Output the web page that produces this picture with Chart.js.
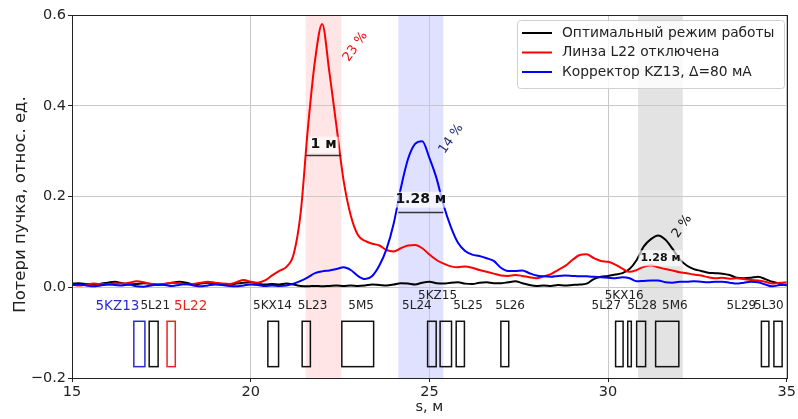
<!DOCTYPE html>
<html><head><meta charset="utf-8">
<script src="https://cdn.jsdelivr.net/npm/chart.js@4.4.0/dist/chart.umd.min.js"></script>
<style>html,body{margin:0;padding:0;background:#fff;}canvas{display:block;}</style>
</head><body>
<canvas id="c" width="798" height="419"></canvas>
<script>
// ---- data ----
const sValues = [15,15.2,15.4,15.6,15.8,16,16.2,16.4,16.6,16.8,
17,17.2,17.4,17.6,17.8,18,18.2,18.4,18.6,18.8,
19,19.2,19.4,19.6,19.8,20,20.2,20.4,20.6,20.8,
21,21.2,21.4,21.6,21.8,22,22.2,22.4,22.6,22.8,
23,23.2,23.4,23.6,23.8,24,24.2,24.4,24.6,24.8,
25,25.2,25.4,25.6,25.8,26,26.2,26.4,26.6,26.8,
27,27.2,27.4,27.6,27.8,28,28.2,28.4,28.6,28.8,
29,29.2,29.4,29.6,29.8,30,30.2,30.4,30.6,30.8,
31,31.2,31.4,31.6,31.8,32,32.2,32.4,32.6,32.8,
33,33.2,33.4,33.6,33.8,34,34.2,34.4,34.6,34.8,
35];
const lossOptimal = [0.008,0.009,0.007,0.006,0.008,0.010,0.012,0.009,0.006,0.007,
0.009,0.008,0.005,0.007,0.010,0.012,0.010,0.006,0.008,0.010,
0.009,0.006,0.005,0.008,0.010,0.011,0.008,0.006,0.007,0.006,
0.008,0.006,0.003,0.002,0.003,0.002,0.003,0.004,0.003,0.004,
0.003,0.004,0.006,0.005,0.004,0.006,0.009,0.008,0.006,0.010,
0.012,0.009,0.008,0.010,0.011,0.008,0.007,0.010,0.011,0.009,
0.009,0.011,0.013,0.009,0.005,0.003,0.004,0.003,0.005,0.004,
0.005,0.006,0.008,0.018,0.023,0.025,0.028,0.031,0.040,0.060,
0.090,0.106,0.114,0.105,0.085,0.062,0.048,0.040,0.036,0.032,
0.031,0.030,0.027,0.021,0.020,0.021,0.023,0.018,0.012,0.008,
0.004];
const lossL22Off = [0.006,0.004,0.006,0.008,0.007,0.006,0.009,0.008,0.010,0.013,
0.011,0.007,0.006,0.008,0.010,0.009,0.006,0.007,0.010,0.012,
0.010,0.008,0.007,0.011,0.016,0.012,0.010,0.015,0.026,0.036,
0.045,0.072,0.165,0.350,0.500,0.580,0.475,0.355,0.235,0.158,
0.115,0.102,0.096,0.092,0.082,0.079,0.086,0.092,0.093,0.086,
0.072,0.060,0.052,0.046,0.044,0.046,0.043,0.038,0.034,0.030,
0.026,0.025,0.027,0.025,0.022,0.020,0.024,0.029,0.038,0.047,
0.060,0.071,0.073,0.064,0.058,0.056,0.050,0.041,0.034,0.038,
0.045,0.048,0.044,0.040,0.037,0.033,0.031,0.028,0.026,0.022,
0.020,0.021,0.019,0.020,0.018,0.016,0.015,0.012,0.008,0.010,
0.011];
const lossKZ13 = [0.005,0.006,0.004,0.002,0.004,0.006,0.005,0.004,0.006,0.002,
0.001,0.004,0.006,0.005,0.003,0.005,0.007,0.004,0.002,0.004,
0.006,0.005,0.003,0.002,0.004,0.006,0.005,0.003,0.004,0.003,
0.004,0.008,0.014,0.022,0.031,0.035,0.037,0.040,0.044,0.038,
0.025,0.018,0.025,0.048,0.084,0.140,0.218,0.282,0.316,0.322,
0.285,0.240,0.180,0.133,0.098,0.080,0.072,0.069,0.064,0.058,
0.043,0.036,0.036,0.037,0.031,0.026,0.024,0.023,0.025,0.026,
0.025,0.024,0.024,0.023,0.022,0.021,0.020,0.022,0.020,0.013,
0.014,0.015,0.015,0.011,0.010,0.012,0.012,0.013,0.012,0.011,
0.012,0.012,0.010,0.008,0.010,0.012,0.011,0.006,0.002,0.005,
0.006];
const seriesNames = ['Оптимальный режим работы','Линза L22 отключена','Корректор KZ13, Δ=80 мА'];
const xTicks = [15,20,25,30,35];
const yTicks = [-0.2,0.0,0.2,0.4,0.6];
const xTitle = 's, м';
const yTitle = 'Потери пучка, относ. ед.';

// peak regions (FWHM) and labels
const bandStart = [21.54,24.13,30.84];
const bandEnd   = [22.54,25.39,32.09];
const fwhmLevel = [0.292,0.165,null];
const fwhmText  = ['1 м','1.28 м','1.28 м'];
const fwhmTextY = [0.314,0.193,0.064];
const pctText = ['23 %','14 %','2 %'];
const pctS    = [22.93,25.61,32.07];
const pctY    = [0.53,0.327,0.134];

// beamline elements
const elemNames = ['5KZ13','5L21','5L22','5KX14','5L23','5M5','5L24','5KZ15','5L25','5L26','5L27','5KX16','5L28','5M6','5L29','5L30'];
const elemStart = [16.73,17.16,17.66,20.48,21.44,22.55,24.95,25.30,25.75,27.00,30.21,30.55,30.80,31.33,34.29,34.64];
const elemEnd   = [17.04,17.41,17.89,20.78,21.67,23.44,25.19,25.62,25.98,27.22,30.42,30.65,31.05,31.98,34.50,34.87];
const elemLabelS = [16.27,17.33,18.32,20.61,21.73,23.09,24.65,25.23,26.08,27.26,29.95,30.45,30.95,31.87,33.73,34.50];
const elemUpper = ['5KZ15','5KX16'];

// ---- styles ----
const FONT = '"DejaVu Sans", sans-serif';
const lineColors = ['#000000','#ff0000','#0000ff'];
const bandColors = ['rgba(255,0,0,0.10)','rgba(0,0,255,0.12)','rgba(128,128,128,0.22)'];
const pctColors = ['#ee1111','#22307a','#111111'];
const fwhmFont = ['bold 14px '+FONT,'bold 14px '+FONT,'bold 11px '+FONT];
const elemColor = {'5KZ13':'#2a2ad0','5L22':'#ee2222'};

Chart.defaults.font.family = FONT;

const mk = vals => sValues.map((s,i)=>({x:s,y:vals[i]}));

const deco = {
  id:'deco',
  beforeDraw(chart){
    const {ctx, chartArea:a, scales:{x}} = chart;
    ctx.save();
    bandStart.forEach((b,i)=>{
      const x0 = x.getPixelForValue(b), x1 = x.getPixelForValue(bandEnd[i]);
      ctx.fillStyle = bandColors[i];
      ctx.fillRect(x0, a.top, x1-x0, a.bottom-a.top);
    });
    ctx.restore();
  },
  afterDraw(chart){
    const {ctx, chartArea:a, scales:{x,y}} = chart;
    ctx.save();
    // FWHM markers
    bandStart.forEach((b,i)=>{
      const x0 = x.getPixelForValue(b), x1 = x.getPixelForValue(bandEnd[i]);
      if (fwhmLevel[i] !== null) {
        const yy = Math.round(y.getPixelForValue(fwhmLevel[i]))+0.5;
        ctx.strokeStyle = '#333'; ctx.lineWidth = 1.5;
        ctx.beginPath(); ctx.moveTo(x0,yy); ctx.lineTo(x1,yy); ctx.stroke();
      }
      ctx.font = fwhmFont[i];
      const cx = (x0+x1)/2, ty = y.getPixelForValue(fwhmTextY[i]);
      const w = ctx.measureText(fwhmText[i]).width;
      ctx.fillStyle = 'rgba(255,255,255,0.65)';
      ctx.fillRect(cx-w/2-2, ty-8, w+4, 16);
      ctx.fillStyle = '#111'; ctx.textAlign='center'; ctx.textBaseline='middle';
      ctx.fillText(fwhmText[i], cx, ty);
      // percent labels
      ctx.save();
      ctx.translate(x.getPixelForValue(pctS[i]), y.getPixelForValue(pctY[i]));
      ctx.rotate(-55*Math.PI/180);
      ctx.font = '13px '+FONT; ctx.fillStyle = pctColors[i];
      ctx.fillText(pctText[i], 0, 0);
      ctx.restore();
    });
    // elements
    const yb0 = y.getPixelForValue(-0.175), yb1 = y.getPixelForValue(-0.075);
    elemNames.forEach((n,i)=>{
      const col = elemColor[n] || '#111';
      const x0 = x.getPixelForValue(elemStart[i]), x1 = x.getPixelForValue(elemEnd[i]);
      ctx.strokeStyle = col; ctx.lineWidth = 1.5;
      ctx.strokeRect(x0, yb1, x1-x0, yb0-yb1);
      ctx.fillStyle = elemColor[n] ? col : '#222';
      ctx.font = (elemColor[n] ? '13.5px ' : '12px ') + FONT;
      ctx.textAlign='center'; ctx.textBaseline='middle';
      const ly = y.getPixelForValue(elemUpper.includes(n) ? -0.018 : -0.042);
      ctx.fillText(n, x.getPixelForValue(elemLabelS[i]), ly);
    });
    // frame
    ctx.strokeStyle = '#222'; ctx.lineWidth = 1;
    ctx.strokeRect(Math.round(a.left)+0.5, Math.round(a.top)+0.5, Math.round(a.right-a.left), Math.round(a.bottom-a.top));
    // y axis title
    ctx.save();
    ctx.translate(21, 204.5); ctx.rotate(-Math.PI/2);
    ctx.font = '16.5px '+FONT; ctx.fillStyle='#222'; ctx.textAlign='center'; ctx.textBaseline='middle';
    ctx.fillText(yTitle, 0, 0);
    ctx.restore();
    // legend
    const lx=517.5, ly=20.5, lw=267, lh=68, r=3;
    ctx.beginPath();
    ctx.moveTo(lx+r,ly); ctx.lineTo(lx+lw-r,ly); ctx.quadraticCurveTo(lx+lw,ly,lx+lw,ly+r);
    ctx.lineTo(lx+lw,ly+lh-r); ctx.quadraticCurveTo(lx+lw,ly+lh,lx+lw-r,ly+lh);
    ctx.lineTo(lx+r,ly+lh); ctx.quadraticCurveTo(lx,ly+lh,lx,ly+lh-r);
    ctx.lineTo(lx,ly+r); ctx.quadraticCurveTo(lx,ly,lx+r,ly); ctx.closePath();
    ctx.fillStyle='rgba(255,255,255,0.82)'; ctx.fill();
    ctx.strokeStyle='#d0d0d0'; ctx.lineWidth=1; ctx.stroke();
    ctx.font = '13.8px '+FONT; ctx.textAlign='left'; ctx.textBaseline='middle';
    seriesNames.forEach((nm,i)=>{
      const yy = 33 + i*19.5;
      ctx.strokeStyle = lineColors[i]; ctx.lineWidth = 2;
      ctx.beginPath(); ctx.moveTo(522,yy); ctx.lineTo(552,yy); ctx.stroke();
      ctx.fillStyle = '#222';
      ctx.fillText(nm, 562, yy);
    });
    ctx.restore();
  }
};

new Chart(document.getElementById('c'), {
  type:'line',
  data:{ datasets:[
    {label:seriesNames[0], data:mk(lossOptimal), borderColor:lineColors[0], borderWidth:2, pointRadius:0, order:3, cubicInterpolationMode:'monotone', fill:false},
    {label:seriesNames[1], data:mk(lossL22Off), borderColor:lineColors[1], borderWidth:2, pointRadius:0, order:2, cubicInterpolationMode:'monotone', fill:false},
    {label:seriesNames[2], data:mk(lossKZ13), borderColor:lineColors[2], borderWidth:2, pointRadius:0, order:1, cubicInterpolationMode:'monotone', fill:false}
  ]},
  options:{
    responsive:false, animation:false, devicePixelRatio:1,
    layout:{ padding:{top:15, right:10, left:0, bottom:0}, autoPadding:false },
    plugins:{ legend:{display:false}, tooltip:{enabled:false} },
    scales:{
      x:{ type:'linear', min:15, max:35,
        afterBuildTicks: s => { s.ticks = xTicks.map(v=>({value:v})); },
        afterFit: s => { s.height = 41; },
        ticks:{ font:{size:14.5}, color:'#222', padding:2, maxRotation:0, callback:v=>String(v) },
        grid:{ color:'#c8c8c8', tickColor:'#222', tickLength:4, lineWidth:1 },
        border:{ display:false },
        title:{ display:true, text:xTitle, font:{size:14.5}, color:'#222', padding:{top:0,bottom:3} }
      },
      y:{ type:'linear', min:-0.2, max:0.6,
        afterBuildTicks: s => { s.ticks = yTicks.map(v=>({value:v})); },
        afterFit: s => { s.width = 72; },
        ticks:{ font:{size:14.5}, color:'#222', padding:2, callback:v=>(Math.abs(v)<1e-9?0:v).toFixed(1).replace('-','\u2212') },
        grid:{ color:'#c8c8c8', tickColor:'#222', tickLength:4, lineWidth:1 },
        border:{ display:false },
        title:{ display:false }
      }
    }
  },
  plugins:[deco]
});
</script>
</body></html>
